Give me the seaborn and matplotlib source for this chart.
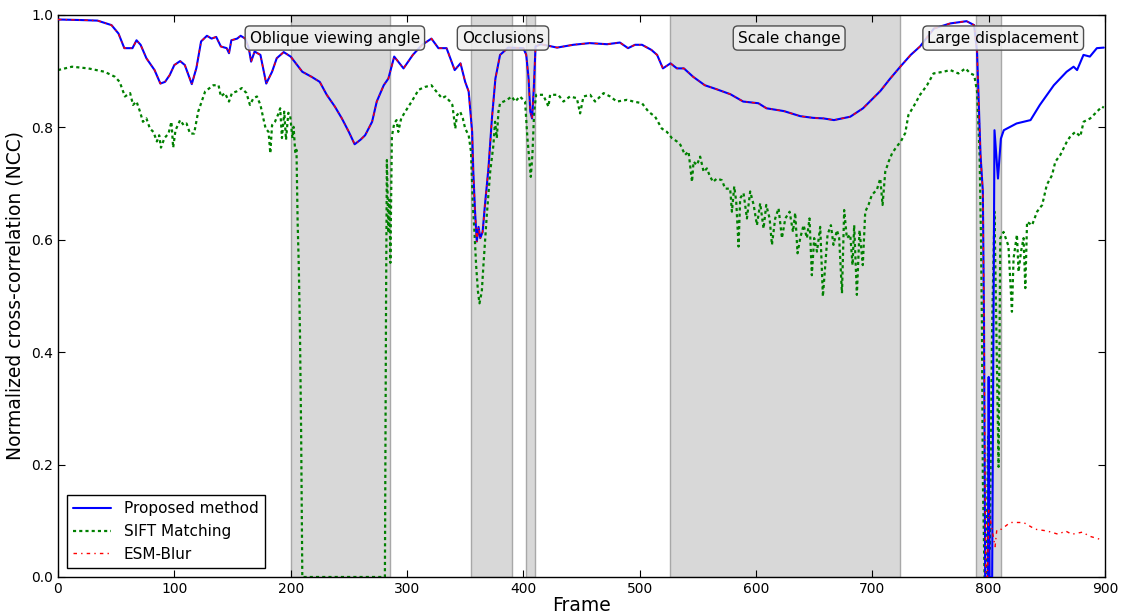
import matplotlib
matplotlib.use("Agg")
import matplotlib.pyplot as plt
import seaborn as sns
from matplotlib.lines import Line2D

# ---------------- data ----------------
prop_frames = [0, 20, 34, 46, 52, 57, 64, 67.5, 71, 76, 83, 88, 92, 96, 100, 105, 109, 115, 119, 123,
               128, 132, 136, 140, 145, 147, 149, 154, 157, 161, 164, 166, 169, 174, 179, 184, 188, 194,
               200, 210, 218, 225, 231, 238, 244, 250, 255, 260, 264, 270, 274, 280, 284, 289, 297, 305,
               313, 321, 327, 334, 341, 346, 350, 353, 356, 357, 358.5, 360, 361.5, 363, 365, 367, 370,
               373, 376, 380, 387, 400, 402.5, 404.5, 406, 407.5, 409, 410.5, 415, 429, 443, 457, 472,
               483, 490, 496, 502, 510, 515, 520, 526.5, 532, 538, 546, 556, 566, 578, 589, 602, 609,
               624, 638, 649, 658, 667, 681, 692, 707, 715, 724, 733, 741, 753, 767, 781, 787.5, 790,
               793, 795, 796, 797, 799.3, 800, 800.8, 803, 805, 808, 810.5, 813, 824, 836, 844, 856,
               867, 873, 876, 881.5, 887, 893, 899]
prop_values = [0.992, 0.991, 0.990, 0.982, 0.967, 0.941, 0.941, 0.955, 0.947, 0.923, 0.902, 0.878, 0.881,
               0.893, 0.911, 0.918, 0.911, 0.877, 0.906, 0.953, 0.963, 0.958, 0.961, 0.944, 0.941, 0.932,
               0.955, 0.958, 0.963, 0.958, 0.941, 0.917, 0.935, 0.929, 0.878, 0.899, 0.923, 0.934, 0.926,
               0.899, 0.890, 0.881, 0.858, 0.837, 0.816, 0.792, 0.770, 0.778, 0.786, 0.810, 0.846, 0.875,
               0.887, 0.926, 0.905, 0.929, 0.947, 0.958, 0.941, 0.941, 0.902, 0.914, 0.881, 0.864, 0.792,
               0.721, 0.650, 0.597, 0.623, 0.603, 0.614, 0.662, 0.727, 0.816, 0.887, 0.929, 0.942, 0.941,
               0.929, 0.887, 0.828, 0.816, 0.870, 0.944, 0.948, 0.942, 0.947, 0.950, 0.948, 0.951, 0.941,
               0.947, 0.947, 0.938, 0.929, 0.905, 0.914, 0.905, 0.905, 0.890, 0.875, 0.868, 0.859, 0.846,
               0.843, 0.834, 0.829, 0.820, 0.817, 0.816, 0.813, 0.819, 0.834, 0.865, 0.886, 0.908, 0.929,
               0.944, 0.976, 0.985, 0.989, 0.982, 0.935, 0.751, 0.686, 0.454, 0.0, 0.0, 0.356, 0.0, 0.0,
               0.795, 0.709, 0.780, 0.795, 0.807, 0.813, 0.840, 0.875, 0.899, 0.908, 0.902, 0.929, 0.926,
               0.941, 0.942]

sift_frames = [0, 12, 26, 40, 49, 53, 57.5, 62, 64.5, 67.5, 70.5, 73, 76, 79, 82, 85, 87, 88.5, 91.5, 95,
               97.5, 99, 101, 105, 108, 110.5, 113.5, 117, 120.5, 126.5, 133.5, 138, 140, 143.5, 147,
               149.5, 153.5, 158, 162, 165, 168, 171, 174, 176.5, 178.5, 181, 182.5, 184, 186.5, 189,
               191, 192.5, 194.5, 196, 198, 199.5, 201.5, 202.5, 204, 205, 206, 207, 208, 209, 210, 281,
               282, 282.7, 284, 285, 285.7, 287, 289, 291, 292.5, 295, 298.5, 304, 310, 315.5, 321, 324,
               330, 333, 337, 339, 341.5, 343, 345.7, 348, 350, 353, 355, 356.6, 358, 359.4, 361, 362.3,
               364.3, 365.7, 368.6, 371.5, 374.3, 375.7, 377.2, 378.6, 380, 386, 390, 393, 397, 401.5,
               403.5, 405.3, 406.4, 407.8, 409.3, 411, 417, 421.6, 423, 430, 434.5, 440, 446, 448.8,
               451.7, 457.4, 461.7, 469, 474.6, 480.4, 489, 494.7, 502, 507.6, 513.3, 519, 523.4, 527.7,
               532, 535, 539, 542, 545, 546.3, 549.2, 552, 555, 557.8, 560, 563, 566.4, 570.7, 573.5,
               577.8, 579.3, 581.3, 583, 585, 586.4, 589.3, 592.2, 595, 598, 600.8, 603.6, 606.5, 608.8,
               611.7, 613.7, 616.5, 619.4, 622.3, 625.2, 628.9, 631.8, 633.7, 635.7, 638, 640.9, 643.8,
               646, 648, 650, 652.4, 655.2, 657.5, 659.5, 661.5, 664.4, 666.6, 669.6, 671.5, 673.9,
               675.8, 678.1, 681, 683, 684.4, 686.7, 689, 691.8, 693.9, 696.7, 699.6, 703.9, 706.8,
               708.8, 711.1, 714, 717, 721, 724.5, 728.3, 731, 735.4, 741, 747, 752.6, 761, 767, 774,
               780, 784.3, 787.6, 790, 792.2, 793.4, 794.2, 795, 796.5, 798, 799.5, 801, 803, 805, 806.5,
               808.5, 810, 812.8, 815.7, 817, 820, 821.4, 824.3, 825.7, 827.8, 830, 831.5, 833, 837.3,
               841.6, 846, 850, 854.5, 857.3, 861.6, 864.4, 867.3, 870.2, 874.5, 878.8, 881.6, 887.3,
               893, 897.4, 899]
sift_values = [0.902, 0.908, 0.905, 0.899, 0.890, 0.881, 0.855, 0.861, 0.840, 0.846, 0.828, 0.810, 0.816,
               0.798, 0.792, 0.775, 0.786, 0.764, 0.781, 0.789, 0.810, 0.764, 0.795, 0.813, 0.804, 0.807,
               0.789, 0.789, 0.828, 0.864, 0.875, 0.875, 0.855, 0.861, 0.846, 0.861, 0.864, 0.870, 0.861,
               0.840, 0.852, 0.855, 0.840, 0.816, 0.798, 0.792, 0.754, 0.804, 0.810, 0.822, 0.834, 0.781,
               0.828, 0.778, 0.826, 0.822, 0.781, 0.801, 0.754, 0.760, 0.630, 0.552, 0.434, 0.256, 0.0,
               0.0, 0.493, 0.742, 0.612, 0.671, 0.559, 0.784, 0.807, 0.813, 0.792, 0.816, 0.828, 0.846,
               0.867, 0.872, 0.875, 0.867, 0.852, 0.855, 0.846, 0.840, 0.798, 0.822, 0.828, 0.816, 0.798,
               0.786, 0.757, 0.662, 0.614, 0.555, 0.508, 0.487, 0.508, 0.555, 0.644, 0.721, 0.769, 0.810,
               0.781, 0.828, 0.843, 0.849, 0.855, 0.846, 0.855, 0.846, 0.781, 0.739, 0.712, 0.751, 0.828,
               0.858, 0.858, 0.837, 0.858, 0.858, 0.846, 0.855, 0.852, 0.825, 0.855, 0.858, 0.846, 0.861,
               0.855, 0.846, 0.849, 0.846, 0.843, 0.828, 0.819, 0.798, 0.792, 0.781, 0.775, 0.769, 0.751,
               0.757, 0.703, 0.739, 0.733, 0.748, 0.721, 0.727, 0.715, 0.703, 0.709, 0.706, 0.691, 0.691,
               0.650, 0.695, 0.668, 0.588, 0.674, 0.683, 0.638, 0.686, 0.662, 0.626, 0.665, 0.620, 0.662,
               0.638, 0.591, 0.638, 0.656, 0.603, 0.638, 0.650, 0.614, 0.648, 0.576, 0.603, 0.626, 0.603,
               0.638, 0.537, 0.603, 0.579, 0.623, 0.499, 0.555, 0.609, 0.626, 0.591, 0.617, 0.603, 0.505,
               0.653, 0.603, 0.609, 0.555, 0.626, 0.502, 0.617, 0.555, 0.650, 0.662, 0.680, 0.689, 0.709,
               0.662, 0.721, 0.739, 0.754, 0.766, 0.775, 0.790, 0.822, 0.837, 0.858, 0.875, 0.896, 0.899,
               0.902, 0.896, 0.905, 0.896, 0.893, 0.864, 0.751, 0.603, 0.454, 0.173, 0.0, 0.0, 0.25, 0.05,
               0.45, 0.65, 0.45, 0.196, 0.603, 0.614, 0.597, 0.589, 0.472, 0.567, 0.609, 0.543, 0.579,
               0.603, 0.514, 0.632, 0.626, 0.650, 0.662, 0.698, 0.715, 0.739, 0.751, 0.763, 0.775, 0.784,
               0.792, 0.784, 0.810, 0.816, 0.828, 0.837, 0.835]

# ESM-Blur coincides with the proposed method up to frame 796, then:
esm_split_frame = 796
esm_tail_frames = [797.5, 799, 800, 803, 805.5, 807, 811, 818.5, 830, 840, 850, 860, 866, 871.5, 881, 886, 897.5]
esm_tail_values = [0.0, 0.0, 0.119, 0.084, 0.054, 0.084, 0.085, 0.097, 0.097, 0.085, 0.082, 0.076, 0.082,
                   0.076, 0.080, 0.073, 0.066]

regions = [(200, 285), (355, 390), (402, 410), (526, 724), (789, 811)]
region_labels = ["Oblique viewing angle", "Occlusions", "Scale change", "Large displacement"]
label_x = [238, 382.5, 628.5, 812.5]

series_names = ["Proposed method", "SIFT Matching", "ESM-Blur"]
x_ticks = [0, 100, 200, 300, 400, 500, 600, 700, 800, 900]
y_ticks = [0.0, 0.2, 0.4, 0.6, 0.8, 1.0]

# ---------------- build ESM series ----------------
esm_frames = [f for f in prop_frames if f <= esm_split_frame] + esm_tail_frames
esm_values = [v for f, v in zip(prop_frames, prop_values) if f <= esm_split_frame] + esm_tail_values

# ---------------- plot ----------------
sns.set_style("ticks")
plt.rcParams['font.family'] = ['DejaVu Sans']
plt.rcParams['xtick.direction'] = 'in'
plt.rcParams['ytick.direction'] = 'in'
plt.rcParams['text.color'] = 'black'
plt.rcParams['axes.labelcolor'] = 'black'

fig = plt.figure(figsize=(11.24, 6.13), dpi=100)
ax = fig.add_axes([58 / 1124, 1 - 577 / 613, (1105 - 58) / 1124, (577 - 15) / 613])

for (a, b) in regions:
    ax.axvspan(a, b, facecolor='#d8d8d8', edgecolor='#a8a8a8', linewidth=1.0, zorder=0)

sns.lineplot(x=sift_frames, y=sift_values, ax=ax, color='green', linewidth=1.6,
             linestyle=(0, (1.4, 1.4)), sort=False, estimator=None, zorder=2)
sns.lineplot(x=prop_frames, y=prop_values, ax=ax, color='blue', linewidth=1.5,
             sort=False, estimator=None, zorder=3)
sns.lineplot(x=esm_frames, y=esm_values, ax=ax, color='red', linewidth=1.0,
             linestyle=(0, (2.5, 3, 1, 3)), sort=False, estimator=None, zorder=4)

for s, x in zip(region_labels, label_x):
    ax.text(x, 0.959, s, ha='center', va='center', fontsize=11, zorder=6, color='black',
            bbox=dict(boxstyle='round,pad=0.3', facecolor=(0.94, 0.94, 0.94, 0.85),
                      edgecolor='0.3', linewidth=1.0))

ax.set_xlim(0, 900)
ax.set_ylim(0, 1.0)
ax.set_xticks(x_ticks)
ax.set_yticks(y_ticks)
ax.set_xticklabels([str(t) for t in x_ticks])
ax.set_yticklabels([f"{t:.1f}" for t in y_ticks])
ax.tick_params(axis='both', which='both', direction='in', top=True, right=True,
               labelsize=10, length=5, width=0.8, colors='black')
for sp in ax.spines.values():
    sp.set_visible(True)
    sp.set_color('black')
    sp.set_linewidth(1.0)

ax.set_xlabel("Frame", fontsize=13.5, labelpad=0)
ax.set_ylabel("Normalized cross-correlation (NCC)", fontsize=13.5, labelpad=5)

handles = [
    Line2D([], [], color='blue', linewidth=1.5),
    Line2D([], [], color='green', linewidth=1.6, linestyle=(0, (1.4, 1.4))),
    Line2D([], [], color='red', linewidth=1.0, linestyle=(0, (2.5, 3, 1, 3))),
]
leg = ax.legend(handles, series_names, loc='lower left', fontsize=11, frameon=True,
                fancybox=False, edgecolor='black', framealpha=1.0, borderpad=0.4,
                handlelength=2.5, borderaxespad=0.6)
leg.get_frame().set_linewidth(1.0)
for t in leg.get_texts():
    t.set_color('black')

fig.savefig("out.png", dpi=100)
